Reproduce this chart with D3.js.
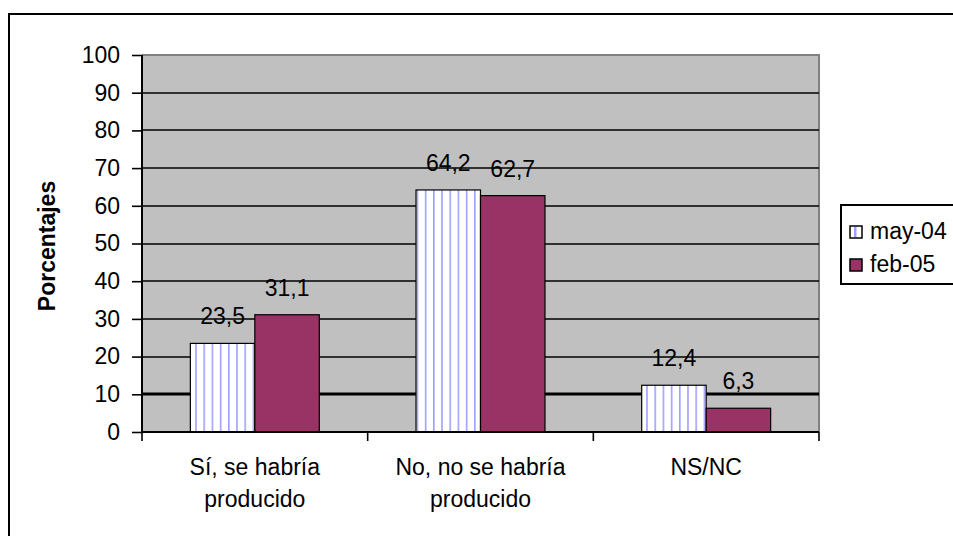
<!DOCTYPE html>
<html><head><meta charset="utf-8">
<script src="https://cdn.jsdelivr.net/npm/d3@7"></script>
<style>body{margin:0;background:#fff}svg{display:block}text{font-family:"Liberation Sans",Arial,sans-serif}</style>
</head><body>
<svg id="c" width="953" height="536"></svg>
<script>
const categories = [["Sí, se habría","producido"],["No, no se habría","producido"],["NS/NC"]];
const seriesNames = ["may-04","feb-05"];
const may04 = [23.5, 64.2, 12.4];
const feb05 = [31.1, 62.7, 6.3];
const yTicks = [0,10,20,30,40,50,60,70,80,90,100];
const valueLabels = [["23,5","64,2","12,4"],["31,1","62,7","6,3"]];

const svg = d3.select("#c");
const L = 142, R = 819, T = 55, B = 432;
const defs = svg.append("defs");
const pat = defs.append("pattern").attr("id","vstripe").attr("patternUnits","userSpaceOnUse")
  .attr("width",8.2).attr("height",10).attr("x",L+4);
pat.append("rect").attr("width",8.2).attr("height",10).attr("fill","#fff");
pat.append("rect").attr("x",0).attr("width",1.6).attr("height",10).attr("fill","#9f9fff");

// outer frame
svg.append("rect").attr("x",9).attr("y",14).attr("width",1000).attr("height",600)
  .attr("fill","none").attr("stroke","#000").attr("stroke-width",2);

const y = d3.scaleLinear().domain([0,100]).range([B,T]);
const x0 = d3.scaleBand().domain(d3.range(categories.length)).range([L,R]).paddingInner(0).paddingOuter(0);
const bw = x0.bandwidth()/3.5;
const fills = ["url(#vstripe)","#993366"];
const data = [may04, feb05];

// plot area
svg.append("rect").attr("x",L).attr("y",T).attr("width",R-L).attr("height",B-T).attr("fill","#c0c0c0");
svg.append("path").attr("d",`M${L},${T}H${R}V${B}`).attr("fill","none").attr("stroke","#808080").attr("stroke-width",2);

// gridlines
svg.append("g").selectAll("line").data(yTicks.filter(d=>d>0)).join("line")
  .attr("x1",L).attr("x2",R).attr("y1",d=>Math.round(y(d))).attr("y2",d=>Math.round(y(d)))
  .attr("stroke",d=>d===100?"none":"#000").attr("stroke-width",d=>d===10?3:1.6);

// bars
data.forEach((vals,s)=>{
  svg.append("g").selectAll("rect").data(vals).join("rect")
    .attr("x",(d,i)=>x0(i)+0.75*bw+s*bw).attr("width",bw)
    .attr("y",d=>y(d)).attr("height",d=>B-y(d))
    .attr("fill",fills[s]).attr("stroke","#000").attr("stroke-width",1.2);
  svg.append("g").selectAll("text").data(vals).join("text")
    .attr("x",(d,i)=>x0(i)+0.75*bw+s*bw+bw/2).attr("y",d=>y(d)-19)
    .attr("text-anchor","middle").attr("font-size",23).attr("fill","#000")
    .text((d,i)=>valueLabels[s][i]);
});

// y axis
const ya = svg.append("g").attr("transform",`translate(${L},0)`)
  .call(d3.axisLeft(y).tickValues(yTicks).tickSize(10).tickPadding(12).tickFormat(d3.format("d")));
ya.select(".domain").attr("stroke","#000").attr("stroke-width",2).attr("d",`M0,${T}V${B}`);
ya.selectAll(".tick line").attr("stroke","#000").attr("stroke-width",1.6);
ya.selectAll(".tick text").attr("font-size",23).attr("fill","#000").attr("font-family","Liberation Sans, Arial, sans-serif");

// x axis
const xa = svg.append("g");
xa.append("line").attr("x1",L).attr("x2",R).attr("y1",B).attr("y2",B).attr("stroke","#000").attr("stroke-width",2);
xa.selectAll("line.t").data(d3.range(categories.length+1)).join("line").attr("class","t")
  .attr("x1",i=>L+i*x0.bandwidth()).attr("x2",i=>L+i*x0.bandwidth()).attr("y1",B).attr("y2",B+9)
  .attr("stroke","#000").attr("stroke-width",1.6);
categories.forEach((lines,i)=>{
  const t = svg.append("text").attr("text-anchor","middle").attr("font-size",23).attr("fill","#000");
  lines.forEach((ln,j)=>t.append("tspan").attr("x",x0(i)+x0.bandwidth()/2).attr("y",475+j*32).text(ln));
});

// y label
svg.append("text").attr("transform","translate(55,246) rotate(-90)").attr("text-anchor","middle")
  .attr("font-size",23).attr("font-weight","bold").text("Porcentajes");

// legend
svg.append("rect").attr("x",841).attr("y",205).attr("width",200).attr("height",79)
  .attr("fill","#fff").attr("stroke","#000").attr("stroke-width",2);
seriesNames.forEach((n,s)=>{
  const yy = 226 + s*33;
  svg.append("rect").attr("x",850).attr("y",yy).attr("width",12).attr("height",12)
    .attr("fill", s===0 ? "#fff" : "#993366").attr("stroke","#000").attr("stroke-width",1.5);
  if(s===0){
    svg.append("rect").attr("x",854).attr("y",yy+1).attr("width",2.5).attr("height",10).attr("fill","#9f9fff");
  }
  svg.append("text").attr("x",870).attr("y",yy+13).attr("font-size",23).attr("fill","#000").text(n);
});
</script>
</body></html>
